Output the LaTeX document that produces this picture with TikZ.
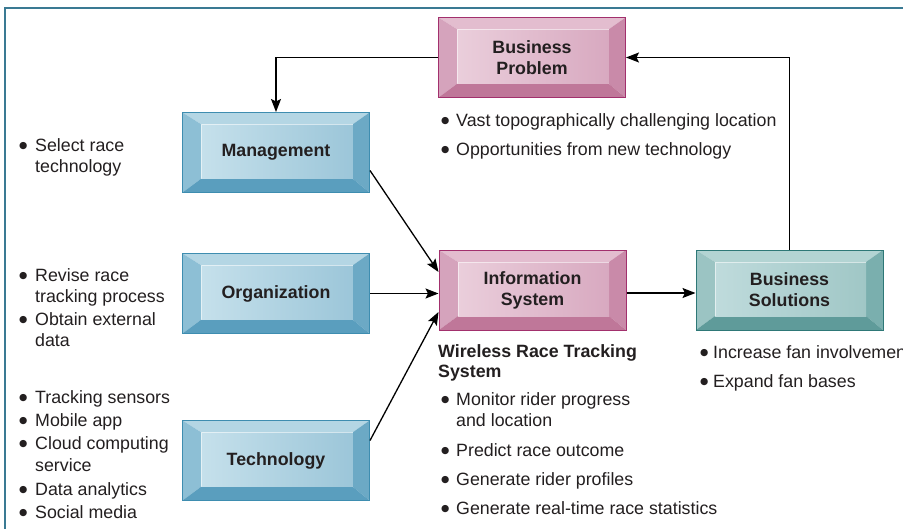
\documentclass[tikz,border=0pt]{standalone}
\usepackage{fontspec}
\setmainfont{Liberation Sans}
\newfontfamily\symf{DejaVu Sans}
\usetikzlibrary{arrows.meta}
\definecolor{txtc}{HTML}{231F20}
\definecolor{framec}{HTML}{3A7A93}
% blue
\definecolor{bluT}{HTML}{B4D6E4}
\definecolor{bluL}{HTML}{8DBFD5}
\definecolor{bluR}{HTML}{6CA9C5}
\definecolor{bluB}{HTML}{5A9EBE}
\definecolor{bluA}{HTML}{C5E0EB}
\definecolor{bluC}{HTML}{9CC6D9}
\definecolor{bluD}{HTML}{3E8DB0}
% pink
\definecolor{pnkT}{HTML}{E3BDCF}
\definecolor{pnkL}{HTML}{D5A3BC}
\definecolor{pnkR}{HTML}{C98AA9}
\definecolor{pnkB}{HTML}{BF7799}
\definecolor{pnkA}{HTML}{EACEDB}
\definecolor{pnkC}{HTML}{D8A9C0}
\definecolor{pnkD}{HTML}{A2306D}
% teal
\definecolor{teaT}{HTML}{B3D4D3}
\definecolor{teaL}{HTML}{9BC4C3}
\definecolor{teaR}{HTML}{7AAFAE}
\definecolor{teaB}{HTML}{5F9B9A}
\definecolor{teaA}{HTML}{BFDBDC}
\definecolor{teaC}{HTML}{A0C7C6}
\definecolor{teaD}{HTML}{2E7877}
\newcommand\bevelpic[1]{%
  \fill[#1T] (path picture bounding box.north west) -- (path picture bounding box.north east)
     -- ([xshift=-17pt,yshift=-12pt]path picture bounding box.north east)
     -- ([xshift=19pt,yshift=-12pt]path picture bounding box.north west) -- cycle;
  \fill[#1L] (path picture bounding box.north west) -- (path picture bounding box.south west)
     -- ([xshift=19pt,yshift=14pt]path picture bounding box.south west)
     -- ([xshift=19pt,yshift=-12pt]path picture bounding box.north west) -- cycle;
  \fill[#1R] (path picture bounding box.north east) -- (path picture bounding box.south east)
     -- ([xshift=-17pt,yshift=14pt]path picture bounding box.south east)
     -- ([xshift=-17pt,yshift=-12pt]path picture bounding box.north east) -- cycle;
  \fill[#1B] (path picture bounding box.south west) -- (path picture bounding box.south east)
     -- ([xshift=-17pt,yshift=14pt]path picture bounding box.south east)
     -- ([xshift=19pt,yshift=14pt]path picture bounding box.south west) -- cycle;
  \shade[left color=#1A, right color=#1C]
     ([xshift=19pt,yshift=14pt]path picture bounding box.south west) rectangle
     ([xshift=-17pt,yshift=-12pt]path picture bounding box.north east);
  \draw[white, opacity=.55, line width=.8pt]
     ([xshift=19pt,yshift=14pt]path picture bounding box.south west) --
     ([xshift=19pt,yshift=-12pt]path picture bounding box.north west) --
     ([xshift=-17pt,yshift=-12pt]path picture bounding box.north east);
}
\newcommand\bul[1]{\makebox[#1][l]{\raisebox{2.2pt}{\symf\fontsize{9.5}{9.5}\selectfont ●}}}
\tikzset{
  bev/.style={draw=#1D, line width=1pt, minimum width=187pt, minimum height=80pt,
    inner sep=0pt, align=center, font=\fontsize{17.8}{21}\selectfont\bfseries, text=txtc,
    path picture={\bevelpic{#1}}},
  txt/.style={anchor=base west, inner sep=0pt, text=txtc, font=\fontsize{17.8}{21}\selectfont},
  btxt/.style={txt, font=\fontsize{17.8}{21}\selectfont\bfseries},
  conn/.style={line width=1.3pt, draw=black, -{Stealth[length=13pt,width=10pt,inset=2.5pt]}},
}
\begin{document}
\begin{tikzpicture}[x=1pt,y=-1pt]
\useasboundingbox (0,0) rectangle (903,528);
\fill[white] (0,0) rectangle (903,528);
\draw[framec, line width=2.2pt] (5,530) -- (5,8) -- (905,8);

% boxes
\node[bev=pnk] (bp)   at (532,57.5)  {Business\\Problem};
\node[bev=blu] (mgmt) at (276,152.5) {Management};
\node[bev=blu] (org)  at (276,293.5) {Organization};
\node[bev=blu] (tech) at (276,460.5) {Technology};
\node[bev=pnk] (is)   at (532.5,290) {Information\\System};
\node[bev=tea] (bs)   at (789.5,290) {Business\\Solutions};

% connectors
\draw[conn] (bs.north) |- (bp.east);
\draw[conn] (bp.west) -| (mgmt.north);
\draw[conn] ([yshift=-18pt]mgmt.east) -- ([yshift=18pt]is.west);
\draw[conn] (org.east) -- (org.east -| is.west);
\draw[conn] ([yshift=20pt]tech.east) -- ([yshift=-22pt]is.west);
\draw[conn] ([yshift=-3pt]is.east) -- ([yshift=-3pt]bs.west);

% left column
\node[txt] (m1) at (19,151) {\bul{16pt}Select race};
\node[txt] (m1b) at (35,172) {technology};
\node[txt] (o1) at (19,281) {\bul{16pt}Revise race};
\node[txt] (o1b) at (35,302) {tracking process};
\node[txt] (o2) at (19,325) {\bul{16pt}Obtain external};
\node[txt] (o2b) at (35,346) {data};
\node[txt] (t1) at (19,403) {\bul{16pt}Tracking sensors};
\node[txt] (t2) at (19,426) {\bul{16pt}Mobile app};
\node[txt] (t3) at (19,449) {\bul{16pt}Cloud computing};
\node[txt] (t3b) at (35,471) {service};
\node[txt] (t4) at (19,495) {\bul{16pt}Data analytics};
\node[txt] (t5) at (19,518) {\bul{16pt}Social media};

% problem bullets
\node[txt] (p1) at (441,126) {\bul{15pt}Vast topographically challenging location};
\node[txt] (p2) at (441,155) {\bul{15pt}Opportunities from new technology};

% system description
\node[btxt] (w1) at (438,357) {Wireless Race Tracking};
\node[btxt] (w1b) at (438,377) {System};
\node[txt] (s1) at (441,405) {\bul{15pt}Monitor rider progress};
\node[txt] (s1b) at (456,426) {and location};
\node[txt] (s2) at (441,456) {\bul{15pt}Predict race outcome};
\node[txt] (s3) at (441,485) {\bul{15pt}Generate rider profiles};
\node[txt] (s4) at (441,514) {\bul{15pt}Generate real-time race statistics};

% solutions bullets
\node[txt] (r1) at (700,358) {\bul{13pt}Increase fan involvemen};
\node[txt] (r2) at (700,387) {\bul{13pt}Expand fan bases};
\end{tikzpicture}
\end{document}
